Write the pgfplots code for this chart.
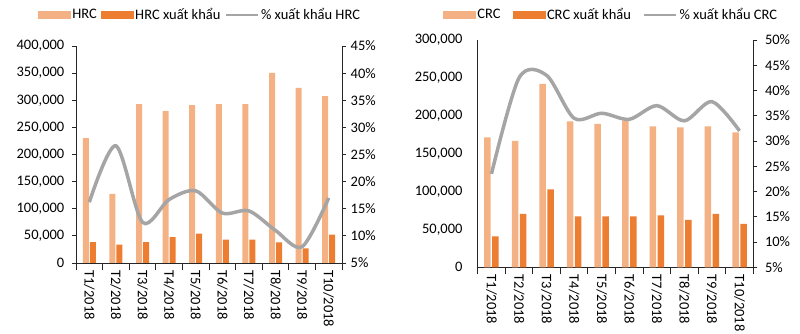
\documentclass[border=0pt]{standalone}
\usepackage{fontspec}
\setmainfont{Carlito}
\usepackage{pgfplots}
\pgfplotsset{compat=1.18}
\definecolor{lbar}{HTML}{F4B183}
\definecolor{dbar}{HTML}{ED7D31}
\definecolor{lgray}{HTML}{A5A5A5}
\definecolor{axc}{HTML}{262626}
\newcommand{\cf}{\fontsize{14.5}{17}\selectfont}
\pgfplotsset{
  /pgf/number format/assume math mode=true,
  every tick label/.append style={font=\cf, text=black},
  base/.style={
    scale only axis, xmin=-0.5, xmax=9.5,
    axis line style={line width=0.9pt, axc},
    tick style={line width=0.9pt, axc},
    tick align=outside, major tick length=4pt, minor tick length=7pt,
  },
  cats/.style={
    xtick={0,...,9},
    xticklabels={T1/2018,T2/2018,T3/2018,T4/2018,T5/2018,T6/2018,T7/2018,T8/2018,T9/2018,T10/2018},
    major x tick style={draw=none},
    minor xtick={-0.5,0.5,...,9.5},
    minor x tick style={line width=0.9pt, axc},
    xticklabel style={rotate=-90, anchor=west},
  },
  leg/.style={
    legend columns=3, legend cell align=left,
    legend style={draw=none, fill=none, font=\cf, anchor=center,
      /tikz/every even column/.append style={column sep=#1}},
  },
  lgimg/.style={legend image code/.code={\fill[#1] (0pt,-3.5pt) rectangle (32pt,3.5pt);}},
  lnimg/.style={legend image code/.code={\draw[line width=2.6pt,lgray] (0pt,0pt) -- (32pt,0pt);}},
}
\begin{document}
\begin{tikzpicture}
\useasboundingbox (0,0) rectangle (800pt,334pt);
% ---------------- Left chart (HRC) ----------------
\begin{axis}[base, cats, at={(76pt,71pt)}, anchor=south west, width=266pt, height=217pt,
  ybar=1pt, bar width=6pt,
  axis y line*=left, axis x line*=bottom,
  ymin=0, ymax=400000, ytick={0,50000,...,400000},
  scaled y ticks=false,
  yticklabel style={inner xsep=7.5pt, /pgf/number format/.cd, fixed, 1000 sep={,}},
]
\addplot[fill=lbar, draw=none] coordinates {(0,230000) (1,127600) (2,293000) (3,279800) (4,290800) (5,293000) (6,293000) (7,350300) (8,322700) (9,307400)};
\addplot[fill=dbar, draw=none] coordinates {(0,38650) (1,33700) (2,38650) (3,47850) (4,54000) (5,42900) (6,42900) (7,38000) (8,27000) (9,52150)};
\end{axis}
\begin{axis}[base, at={(76pt,71pt)}, anchor=south west, width=266pt, height=217pt,
  axis y line*=right, axis x line=none,
  ymin=5, ymax=45, ytick={5,10,...,45},
  yticklabel={\pgfmathprintnumber{\tick}\%},
  yticklabel style={inner xsep=4.5pt},
  leg=2pt, legend style={at={(0.466,1.143)}},
]
\addlegendimage{lgimg=lbar}\addlegendentry{HRC}
\addlegendimage{lgimg=dbar}\addlegendentry{HRC xuất khẩu}
\addplot[lgray, line width=3.5pt, smooth, tension=0.5, lnimg] coordinates {(0,16.2) (1,26.6) (2,12.5) (3,16.7) (4,18.3) (5,14.2) (6,14.6) (7,11.0) (8,8.0) (9,17.0)};
\addlegendentry{\% xuất khẩu HRC}
\end{axis}
% ---------------- Right chart (CRC) ----------------
\begin{axis}[base, cats, at={(477.7pt,66.7pt)}, anchor=south west, width=275.6pt, height=227.3pt,
  ybar=1.5pt, bar width=6.5pt,
  axis y line*=left, axis x line*=bottom,
  ymin=0, ymax=300000, ytick={0,50000,...,300000},
  major y tick style={draw=none},
  scaled y ticks=false,
  yticklabel style={inner xsep=11pt, /pgf/number format/.cd, fixed, 1000 sep={,}},
]
\addplot[fill=lbar, draw=none] coordinates {(0,171600) (1,166800) (2,242000) (3,192700) (4,189200) (5,193600) (6,186100) (7,184800) (8,186100) (9,178200)};
\addplot[fill=dbar, draw=none] coordinates {(0,40900) (1,70400) (2,103000) (3,67300) (4,67300) (5,67300) (6,68600) (7,62500) (8,70400) (9,57200)};
\end{axis}
\begin{axis}[base, at={(477.7pt,66.7pt)}, anchor=south west, width=275.6pt, height=227.3pt,
  axis y line*=right, axis x line=none,
  ymin=5, ymax=50, ytick={5,10,...,50},
  yticklabel={\pgfmathprintnumber{\tick}\%},
  yticklabel style={inner xsep=7.5pt},
  leg=10pt, legend style={at={(0.484,1.11)}},
]
\addlegendimage{lgimg=lbar}\addlegendentry{CRC}
\addlegendimage{lgimg=dbar}\addlegendentry{CRC xuất khẩu}
\addplot[lgray, line width=3.5pt, smooth, tension=0.5, lnimg] coordinates {(0,23.5) (1,42.5) (2,43.0) (3,34.5) (4,35.5) (5,34.3) (6,37.0) (7,34.0) (8,37.8) (9,32.0)};
\addlegendentry{\% xuất khẩu CRC}
\end{axis}
\end{tikzpicture}
\end{document}
